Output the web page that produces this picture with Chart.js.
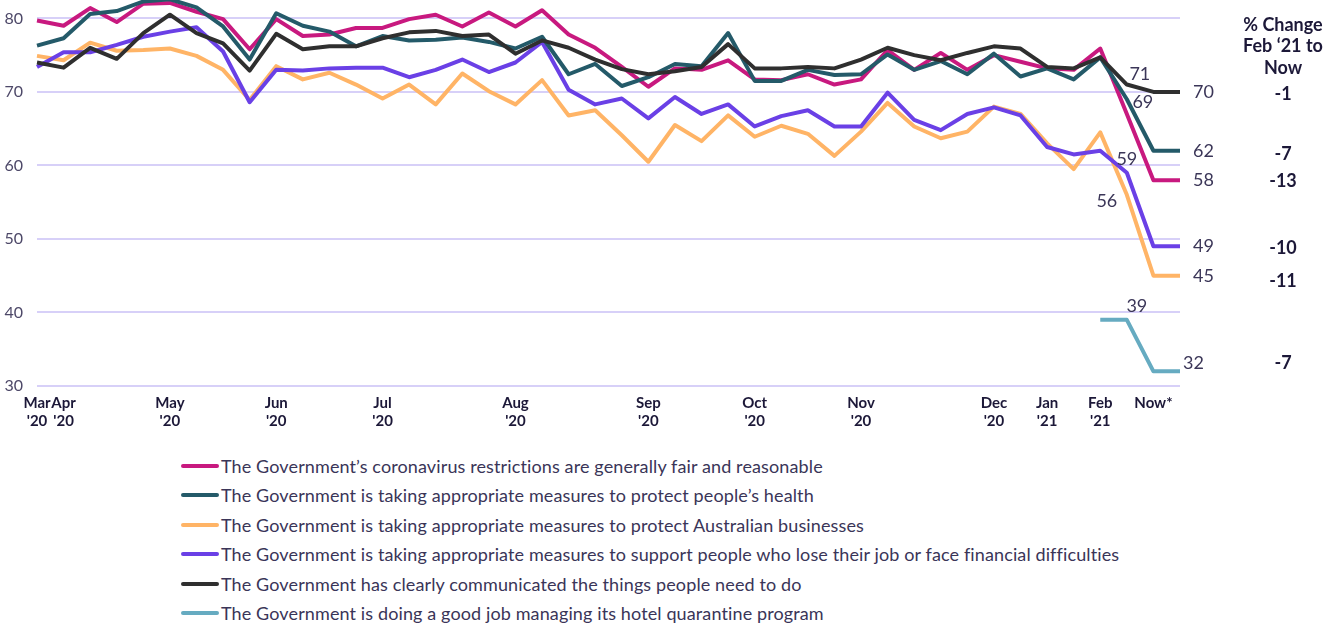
<!DOCTYPE html>
<html>
<head>
<meta charset="utf-8">
<script src="https://cdn.jsdelivr.net/npm/chart.js@4.4.1/dist/chart.umd.min.js"></script>
<style>
html,body{margin:0;padding:0;background:#ffffff;}
#wrap{position:relative;width:1343px;height:440px;}
#legend{position:absolute;left:181px;top:451px;font-family:Lato,"Open Sans",sans-serif;font-size:18px;letter-spacing:0.12px;color:#3a3558;}
.item{display:flex;align-items:center;height:29.5px;white-space:nowrap;}
.sw{width:38px;height:4px;border-radius:2px;margin-right:2px;}
</style>
</head>
<body>
<div id="wrap"><canvas id="c" width="1343" height="440"></canvas></div>
<div id="legend"></div>
<script>
// ---- DATA ----
const xTickLabels = [
  ["Mar","'20"],["Apr","'20"],"","","",["May","'20"],"","","",["Jun","'20"],
  "","","",["Jul","'20"],"","","","",["Aug","'20"],"",
  "","","",["Sep","'20"],"","","",["Oct","'20"],"","",
  "",["Nov","'20"],"","","","",["Dec","'20"],"",["Jan","'21"],"",
  ["Feb","'21"],"",["Now*"],""
];
const yTicks = [30,40,50,60,70,80];

const seriesNames = [
  "The Government\u2019s coronavirus restrictions are generally fair and reasonable",
  "The Government is taking appropriate measures to protect people\u2019s health",
  "The Government is taking appropriate measures to protect Australian businesses",
  "The Government is taking appropriate measures to support people who lose their job or face financial difficulties",
  "The Government has clearly communicated the things people need to do",
  "The Government is doing a good job managing its hotel quarantine program"
];

const restrictions = [79.7,79.0,81.4,79.5,82.0,82.1,80.9,79.9,75.8,79.9,77.6,77.8,78.7,78.7,79.9,80.5,78.9,80.8,78.9,81.1,77.8,76.0,73.4,70.7,73.2,73.0,74.3,71.7,71.6,72.4,71.0,71.7,75.7,73.0,75.3,73.0,75.0,74.1,73.2,73.0,75.9,67.0,58,58];
const health = [76.3,77.3,80.6,81.0,82.3,82.6,81.5,78.9,74.4,80.7,79.0,78.2,76.2,77.6,77.0,77.1,77.4,76.8,75.9,77.5,72.4,73.8,70.8,72.0,73.8,73.5,78.0,71.5,71.5,73.0,72.3,72.4,75.1,73.0,74.2,72.4,75.2,72.1,73.2,71.7,74.7,69,62,62];
const businesses = [74.9,74.3,76.7,75.6,75.7,75.9,74.9,73.0,68.9,73.5,71.7,72.6,71.0,69.1,71.0,68.3,72.5,70.1,68.3,71.6,66.8,67.5,64.1,60.5,65.5,63.3,66.8,63.9,65.4,64.3,61.3,64.6,68.5,65.3,63.7,64.6,68.0,67.0,63.0,59.5,64.5,56,45,45];
const support = [73.4,75.4,75.4,76.4,77.5,78.2,78.8,75.5,68.6,73.0,72.9,73.2,73.3,73.3,72.0,73.0,74.4,72.7,74.0,76.8,70.3,68.3,69.1,66.4,69.3,67.0,68.3,65.3,66.7,67.5,65.3,65.3,69.9,66.2,64.8,67.0,67.9,66.8,62.5,61.5,62.0,59,49,49];
const communicated = [74.0,73.3,76.0,74.5,78.0,80.5,78.0,76.6,72.9,77.9,75.8,76.2,76.2,77.3,78.1,78.3,77.6,77.8,75.2,77.0,76.0,74.4,73.1,72.4,72.8,73.4,76.5,73.2,73.2,73.4,73.2,74.4,76.0,75.0,74.3,75.3,76.2,75.9,73.4,73.2,74.7,71,70,70];
const quarantine = [null,null,null,null,null,null,null,null,null,null,null,null,null,null,null,null,null,null,null,null,null,null,null,null,null,null,null,null,null,null,null,null,null,null,null,null,null,null,null,null,39,39,32,32];

// % change Feb '21 to Now, one per series (same order as seriesNames)
const pctChange = ["-13","-7","-11","-10","-1","-7"];
// which series get a value label at the Feb-end point (index 41)
const pointLabelSeries = [1,2,3,4,5];

// ---- STYLE ----
const colors = ["#c8197f","#245a69","#ffb466","#6a40e6","#2f2f2f","#66abc1"];
const drawOrder = [3,2,5,4,1,6];
const FONT = 'Lato, "Open Sans", sans-serif';
const endDx = [13,13,13,13,13,3];
const endDy = [0,0,0,0,0,-8];
const pctDy = [1,3,5,2,2,-8];
const ptOffsets = {1:[16,3],2:[-20,6],3:[0,-14],4:[13,-10],5:[10,-14]};

const allData = [restrictions, health, businesses, support, communicated, quarantine];

const datasets = allData.map((d,i)=>({
  label: seriesNames[i],
  data: d,
  borderColor: colors[i],
  backgroundColor: colors[i],
  borderWidth: 4,
  pointRadius: 0,
  tension: 0,
  borderJoinStyle: 'round',
  borderCapStyle: 'butt',
  order: drawOrder[i],
  clip: false,
  spanGaps: false
}));

const labelPlugin = {
  id: 'labelPlugin',
  afterDatasetsDraw(chart){
    const ctx = chart.ctx;
    const xs = chart.scales.x, ys = chart.scales.y;
    const last = xTickLabels.length - 1;
    ctx.save();
    ctx.textBaseline = 'middle';
    allData.forEach((d,i)=>{
      const v = d[last];
      const x = xs.getPixelForValue(last);
      const y = ys.getPixelForValue(v);
      ctx.font = '18px ' + FONT;
      ctx.fillStyle = '#3b3658';
      ctx.textAlign = 'left';
      ctx.fillText(String(v), x + endDx[i], y + endDy[i]);
      ctx.font = 'bold 18px ' + FONT;
      ctx.fillStyle = '#1c1838';
      ctx.textAlign = 'center';
      ctx.fillText(pctChange[i], 1283, y + pctDy[i]);
    });
    const pi = last - 2;
    pointLabelSeries.forEach(i=>{
      const v = allData[i][pi];
      const x = xs.getPixelForValue(pi);
      const y = ys.getPixelForValue(v);
      const o = ptOffsets[i];
      ctx.font = '18px ' + FONT;
      ctx.fillStyle = '#3b3658';
      ctx.textAlign = 'center';
      ctx.fillText(String(Math.round(v)), x + o[0], y + o[1]);
    });
    ctx.font = 'bold 18px ' + FONT;
    ctx.fillStyle = '#1c1838';
    ctx.textAlign = 'center';
    ['% Change','Feb \u201821 to','Now'].forEach((t,k)=>ctx.fillText(t, 1283, 25 + k*21.5));
    ctx.restore();
  }
};

const chart = new Chart(document.getElementById('c'), {
  type: 'line',
  data: { labels: xTickLabels, datasets },
  options: {
    responsive: false,
    animation: false,
    devicePixelRatio: 1,
    layout: { padding: { top: 0, right: 163, bottom: 0, left: 0 } },
    plugins: { legend: { display: false }, tooltip: { enabled: false } },
    scales: {
      x: {
        type: 'category',
        offset: false,
        grid: { display: false, drawTicks: false },
        border: { display: false },
        ticks: {
          autoSkip: false, maxRotation: 0, minRotation: 0, padding: 9,
          color: '#1c1838',
          font: { family: FONT, size: 15, weight: 'bold', lineHeight: 1.15 }
        },
        afterFit(s){ s.height = 54; s.paddingLeft = 0; s.paddingRight = 0; }
      },
      y: {
        min: 30, max: 82.5,
        afterBuildTicks(s){ s.ticks = yTicks.map(v=>({value:v})); },
        grid: { color: '#d7d0f8', lineWidth: 2, drawTicks: false },
        border: { display: false },
        ticks: { padding: 14, color: '#4d4868', font: { family: FONT, size: 16 } },
        afterFit(s){ s.width = 37; s.paddingTop = 0; s.paddingBottom = 0; }
      }
    }
  },
  plugins: [labelPlugin]
});

const lg = document.getElementById('legend');
seriesNames.forEach((n,i)=>{
  const it = document.createElement('div'); it.className='item';
  const sw = document.createElement('span'); sw.className='sw'; sw.style.background = colors[i];
  const tx = document.createElement('span'); tx.textContent = n;
  it.appendChild(sw); it.appendChild(tx); lg.appendChild(it);
});
</script>
</body>
</html>
